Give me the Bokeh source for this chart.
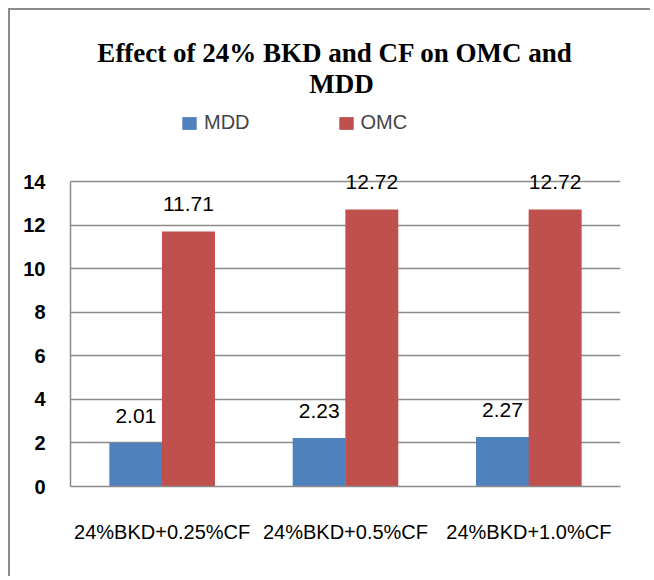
from bokeh.plotting import figure
from bokeh.models import (ColumnDataSource, FactorRange, Range1d, FixedTicker, Label,
                          Legend, LegendItem)
from bokeh.transform import dodge
from bokeh.core.properties import value
from bokeh.embed import file_html
from bokeh.resources import INLINE

categories = ["24%BKD+0.25%CF", "24%BKD+0.5%CF", "24%BKD+1.0%CF"]
mdd = [2.01, 2.23, 2.27]
omc = [11.71, 12.72, 12.72]
mdd_labels = ["2.01", "2.23", "2.27"]
omc_labels = ["11.71", "12.72", "12.72"]
y_ticks = [0, 2, 4, 6, 8, 10, 12, 14]
y_max = 14
title_lines = ["Effect of  24% BKD and CF on OMC and", "MDD"]

BLUE = "#4F81BD"
RED = "#C0504D"
GRID = "#8c8c8c"
SANS = "Liberation Sans"

# layout in pixels
CANVAS_W, CANVAS_H = 642, 568
BORDER_L, BORDER_R, BORDER_T, BORDER_B = 60, 32, 4, 92
AXIS_PX = 305          # pixel height of the 0..14 value axis
frame_h = CANVAS_H - BORDER_T - BORDER_B
y_end = y_max * frame_h / AXIS_PX   # frame extends above 14 to hold title & legend

src = ColumnDataSource(dict(cat=categories, mdd=mdd, omc=omc,
                            mdd_lab=mdd_labels, omc_lab=omc_labels))

p = figure(width=CANVAS_W, height=CANVAS_H, output_backend="svg", toolbar_location=None,
           title=None,
           x_range=FactorRange(*categories, range_padding=0),
           y_range=Range1d(0, y_end),
           min_border_left=BORDER_L, min_border_right=BORDER_R,
           min_border_top=BORDER_T, min_border_bottom=BORDER_B)
p.styles = {"margin-left": "10px", "margin-top": "10px",
            "box-shadow": "-2px -2px 0px 0px #8c8c8c"}
p.outline_line_color = None
p.background_fill_color = None
p.border_fill_color = None

off = 0.1435
bw = 0.289
r1 = p.vbar(x=dodge("cat", -off, range=p.x_range), top="mdd", width=bw, source=src,
            fill_color=BLUE, line_color=None)
r2 = p.vbar(x=dodge("cat", off, range=p.x_range), top="omc", width=bw, source=src,
            fill_color=RED, line_color=None)

lab_style = dict(text_font=value(SANS), text_font_size="21px", text_color="black",
                 text_align="center", text_baseline="alphabetic", y_offset=-27)
p.text(x=dodge("cat", -off, range=p.x_range), y="mdd", text="mdd_lab", source=src, **lab_style)
p.text(x=dodge("cat", off, range=p.x_range), y="omc", text="omc_lab", source=src, **lab_style)

# axes
p.yaxis.ticker = FixedTicker(ticks=y_ticks)
p.yaxis.bounds = (0, y_max)
p.yaxis.major_tick_line_color = None
p.yaxis.minor_tick_line_color = None
p.yaxis.axis_line_color = GRID
p.yaxis.axis_line_width = 1.5
p.yaxis.major_label_standoff = 19
p.yaxis.major_label_text_font = SANS
p.yaxis.major_label_text_font_size = "20px"
p.yaxis.major_label_text_font_style = "bold"
p.yaxis.major_label_text_color = "black"

p.xaxis.major_tick_line_color = None
p.xaxis.axis_line_color = GRID
p.xaxis.axis_line_width = 1.5
p.xaxis.major_label_standoff = 28
p.xaxis.major_label_text_font = SANS
p.xaxis.major_label_text_font_size = "20px"
p.xaxis.major_label_text_color = "black"

p.xgrid.grid_line_color = None
p.ygrid.ticker = FixedTicker(ticks=y_ticks)
p.ygrid.grid_line_color = GRID
p.ygrid.grid_line_width = 1.5

# title (two centred lines), positioned relative to the frame's bottom-left
for txt, sx, sy in [(title_lines[0], 268, 434), (title_lines[1], 271, 403)]:
    p.add_layout(Label(x=sx, y=sy, x_units="screen", y_units="screen", text=txt,
                       text_align="center", text_baseline="alphabetic",
                       text_font="Liberation Serif", text_font_style="bold",
                       text_font_size="27px", text_color="black"))

legend = Legend(items=[LegendItem(label="MDD", renderers=[r1]),
                       LegendItem(label="OMC", renderers=[r2])],
                orientation="horizontal", location=(110, 352),
                glyph_width=18, glyph_height=16, label_standoff=6, spacing=87,
                label_text_font=SANS, label_text_font_size="20px",
                border_line_color=None, background_fill_alpha=0,
                padding=0, margin=0)
p.add_layout(legend, "center")

open("out.html", "w").write(file_html(p, INLINE))
